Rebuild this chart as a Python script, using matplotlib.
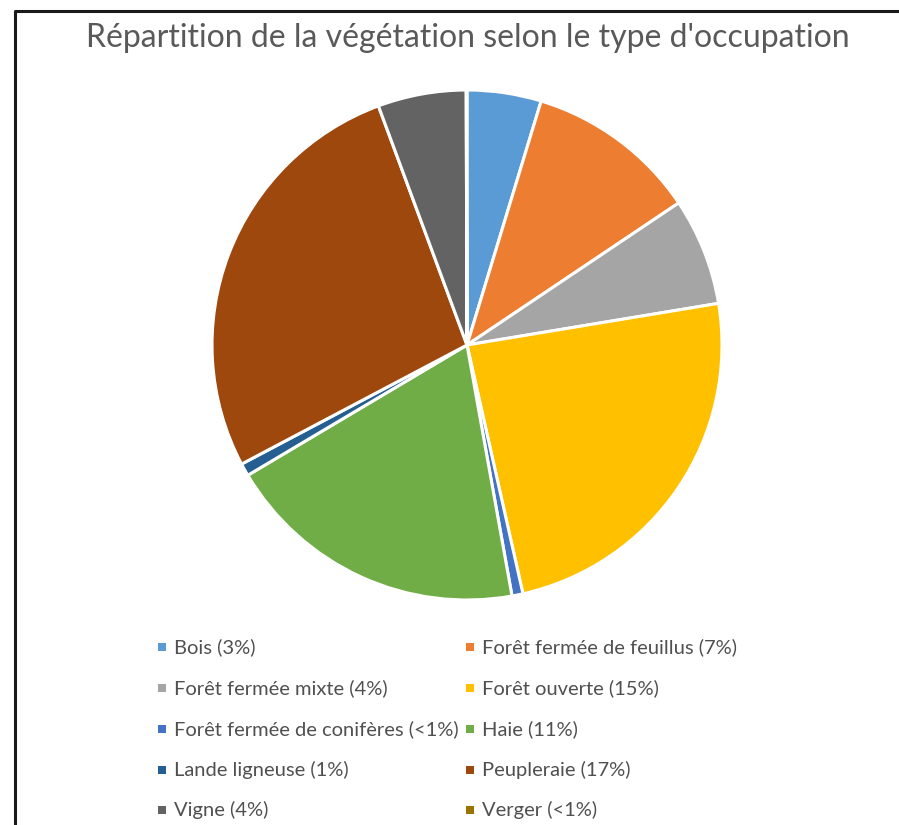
import matplotlib
matplotlib.use("Agg")
import matplotlib.pyplot as plt
from matplotlib.patches import Rectangle
from matplotlib.lines import Line2D

plt.rcParams['font.family'] = ['Lato', 'DejaVu Sans']

categories = ["Bois", "Forêt fermée de feuillus", "Forêt fermée mixte", "Forêt ouverte",
              "Forêt fermée de conifères", "Haie", "Lande ligneuse", "Peupleraie",
              "Vigne", "Verger"]
shares = [4.7, 10.9, 6.8, 24.1, 0.7, 19.3, 0.8, 27.1, 5.6, 0.05]
legend_pct = ["3%", "7%", "4%", "15%", "<1%", "11%", "1%", "17%", "4%", "<1%"]
colors = ["#5B9BD5", "#ED7D31", "#A5A5A5", "#FFC000", "#4472C4",
          "#70AD47", "#255E91", "#9E480E", "#636363", "#997300"]

W, H = 899, 825
fig = plt.figure(figsize=(W / 100, H / 100), dpi=100)

# frame of the chart box (only left and top edges are visible in the crop)
fig.lines.append(Line2D([15 / W, 15 / W, 1.05], [-0.05, 1 - 11 / H, 1 - 11 / H],
                        transform=fig.transFigure, color="#1a1a1a", linewidth=2.2))

fig.text(468 / W, 1 - 38 / H, "Répartition de la végétation selon le type d'occupation",
         ha="center", va="center", fontsize=23, color="#595959")

cx, cy, r = 467, 345, 255
ax = fig.add_axes([(cx - r) / W, (H - cy - r) / H, 2 * r / W, 2 * r / H])
ax.pie(shares, colors=colors, startangle=90, counterclock=False,
       wedgeprops=dict(edgecolor="white", linewidth=2.2))
ax.set_xlim(-1, 1)
ax.set_ylim(-1, 1)
ax.set_aspect("equal")
ax.axis("off")

# legend, two columns
col_x = [162, 470]
row_y = [647, 688, 729, 770, 810]
for i, (name, pct, col) in enumerate(zip(categories, legend_pct, colors)):
    x = col_x[i % 2]
    y = row_y[i // 2]
    fig.patches.append(Rectangle(((x - 4) / W, 1 - (y + 4) / H), 8 / W, 8 / H,
                                 transform=fig.transFigure, facecolor=col, edgecolor="none"))
    fig.text((x + 12) / W, 1 - y / H, f"{name} ({pct})", ha="left", va="center",
             fontsize=14.5, color="#505050")

fig.savefig("out.png", dpi=100, facecolor="white")
